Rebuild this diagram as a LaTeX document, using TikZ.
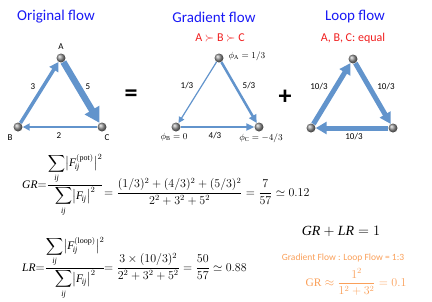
\documentclass[tikz,border=0pt]{standalone}
\usepackage{amsmath}
\usepackage{fontspec}
\setmainfont{Liberation Serif}
\newfontfamily\calib{Carlito}
\usetikzlibrary{arrows.meta}
\DeclareMathVersion{cm}
\SetSymbolFont{operators}{cm}{OT1}{cmr}{m}{n}
\SetSymbolFont{letters}{cm}{OML}{cmm}{m}{it}
\SetSymbolFont{symbols}{cm}{OMS}{cmsy}{m}{n}
\SetSymbolFont{largesymbols}{cm}{OMX}{cmex}{m}{n}
\newcommand\ti[1]{\mathit{#1}}
\newcommand\cmrm[1]{{\fam0 #1}}
\definecolor{flowblue}{RGB}{98,148,204}
\definecolor{titleblue}{RGB}{25,25,245}
\definecolor{ordred}{RGB}{240,30,30}
\definecolor{ratioorange}{RGB}{250,160,90}
\begin{document}
\begin{tikzpicture}[x=1pt,y=-1pt,
  ball/.style={circle,minimum size=9pt,inner sep=0pt,shading=ball,ball color=gray!85},
  title/.style={text=titleblue,font=\calib\fontsize{15}{18}\selectfont,inner sep=0pt},
  order/.style={text=ordred,font=\calib\fontsize{12}{14}\selectfont,inner sep=0pt},
  lbl/.style={font=\calib\fontsize{9}{11}\selectfont,inner sep=0pt},
  phil/.style={font=\fontsize{9}{11}\selectfont\mathversion{cm},inner sep=0pt},
  big/.style={font=\calib\bfseries\fontsize{26}{28}\selectfont,inner sep=0pt},
  frml/.style={font=\fontsize{11.5}{13}\selectfont,inner sep=0pt},
  frm/.style={font=\fontsize{11.5}{13}\selectfont,inner sep=0pt},
  arr/.style={draw=flowblue,line width=#1},
]
\useasboundingbox (0,0) rectangle (432,301);
% titles
\node[title] (t1) at (56,17) {Original flow};
\node[title] (t2) at (214,17) {Gradient flow};
\node[title] (t3) at (355,17) {Loop flow};
\node[order] (o2) at (220,38) {A $\succ$ B $\succ$ C};
\node[order] (o3) at (353,38) {A, B, C: equal};
% original flow
\node[ball] (oA) at (61,58) {};
\node[ball] (oB) at (18,127) {};
\node[ball] (oC) at (102,127) {};
\draw[arr=3.5,-{Triangle[length=9pt,width=10pt]}] (oB) -- (oA);
\draw[arr=6.5,-{Triangle[length=15pt,width=16pt]}] (oA) -- (oC);
\draw[arr=2,-{Triangle[length=7pt,width=7pt]}] (oC) -- (oB);
\node[lbl] (lA) at (61,47) {A};
\node[lbl] (lB) at (10,138) {B};
\node[lbl] (lC) at (107,138) {C};
\node[lbl] (e1) at (33,87) {3};
\node[lbl] (e2) at (88,87) {5};
\node[lbl] (e3) at (59,136) {2};
\node[big] (eq) at (131,96) {=};
% gradient flow
\node[ball] (gA) at (219,58) {};
\node[ball] (gB) at (176,127) {};
\node[ball] (gC) at (259,127) {};
\draw[arr=1.2,-{Triangle[length=6pt,width=6pt]}] (gA) -- (gB);
\draw[arr=2.5,-{Triangle[length=8pt,width=8pt]}] (gA) -- (gC);
\draw[arr=2,-{Triangle[length=8pt,width=7pt]}] (gB) -- (gC);
\node[phil] (pA) at (247,56) {$\phi_{\cmrm{A}}=1/3$};
\node[phil] (pB) at (174,137) {$\phi_{\cmrm{B}}=0$};
\node[phil] (pC) at (261,138) {$\phi_{\cmrm{C}}=-4/3$};
\node[lbl] (g1) at (187,86) {1/3};
\node[lbl] (g2) at (249,86) {5/3};
\node[lbl] (g3) at (215,136) {4/3};
\node[big] (plus) at (285,97) {+};
% loop flow
\node[ball] (lT) at (353,59) {};
\node[ball] (lL) at (311,128) {};
\node[ball] (lR) at (393,128) {};
\draw[arr=5,-{Triangle[length=11pt,width=12pt]}] (lL) -- (lT);
\draw[arr=5,-{Triangle[length=11pt,width=12pt]}] (lT) -- (lR);
\draw[arr=5,-{Triangle[length=11pt,width=12pt]}] (lR) -- (lL);
\node[lbl] (h1) at (319,87) {10/3};
\node[lbl] (h2) at (386,87) {10/3};
\node[lbl] (h3) at (354,137) {10/3};
% formulas
\node[frml,anchor=base west] (gr1) at (22,188) {$\ti{GR}{=}\dfrac{\displaystyle\sum_{\ti{ij}}\bigl|\ti{F}_{\!\ti{ij}}^{(\mathrm{pot})}\bigr|^2}{\displaystyle\sum_{\ti{ij}}\bigl|\ti{F}_{\!\ti{ij}}\bigr|^2}$};
\node[frm,anchor=base west] (gr2) at (104,196) {$=\dfrac{(1/3)^2+(4/3)^2+(5/3)^2}{2^2+3^2+5^2}=\dfrac{7}{57}\simeq 0.12$};
\node[frml,anchor=base west] (lr1) at (22,271) {$\ti{LR}{=}\dfrac{\displaystyle\sum_{\ti{ij}}\bigl|\ti{F}_{\!\ti{ij}}^{(\mathrm{loop})}\bigr|^2}{\displaystyle\sum_{\ti{ij}}\bigl|\ti{F}_{\!\ti{ij}}\bigr|^2}$};
\node[frm,anchor=base west] (lr2) at (104,271) {$=\dfrac{3\times(10/3)^2}{2^2+3^2+5^2}=\dfrac{50}{57}\simeq 0.88$};
\node[font=\fontsize{14}{16}\selectfont,inner sep=0pt] (sum) at (341,231) {$\ti{GR}+\ti{LR}=1$};
\node[text=ratioorange,font=\calib\fontsize{9.5}{11}\selectfont,inner sep=0pt] (ratio) at (343,258) {Gradient Flow : Loop Flow = 1:3};
\node[text=ratioorange,font=\fontsize{11.5}{13}\selectfont\mathversion{cm},inner sep=0pt] (appr) at (356,282) {$\operatorname{GR}\approx\dfrac{1^2}{1^2+3^2}=0.1$};
\end{tikzpicture}
\end{document}
